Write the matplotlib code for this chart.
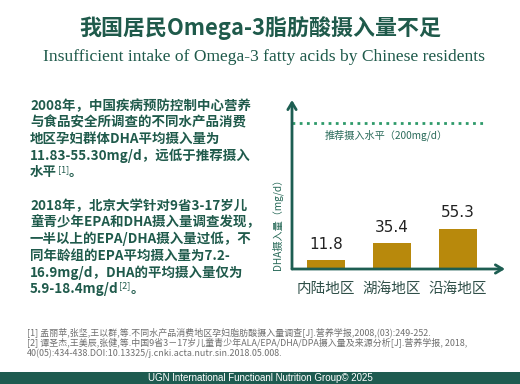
import matplotlib
matplotlib.use("Agg")
import matplotlib.pyplot as plt
from matplotlib.patches import Rectangle

plt.rcParams['font.family'] = ['Noto Sans CJK SC', 'DejaVu Sans']

title_cn = "我国居民Omega-3脂肪酸摄入量不足"
title_en = "Insufficient intake of Omega-3 fatty acids by Chinese residents"
categories = ["内陆地区", "湖海地区", "沿海地区"]
values = [11.8, 35.4, 55.3]
value_labels = ["11.8", "35.4", "55.3"]
recommended = 200
rec_label = "推荐摄入水平（200mg/d）"
ylabel = "DHA摄入量（mg/d）"
para1 = ["2008年，中国疾病预防控制中心营养",
         "与食品安全所调查的不同水产品消费",
         "地区孕妇群体DHA平均摄入量为",
         "11.83-55.30mg/d，远低于推荐摄入",
         "水平"]
para2 = ["2018年，北京大学针对9省3-17岁儿",
         "童青少年EPA和DHA摄入量调查发现，",
         "一半以上的EPA/DHA摄入量过低，不",
         "同年龄组的EPA平均摄入量为7.2-",
         "16.9mg/d，DHA的平均摄入量仅为",
         "5.9-18.4mg/d"]
refs = ["[1] 孟丽苹,张坚,王以群,等.不同水产品消费地区孕妇脂肪酸摄入量调查[J].营养学报,2008,(03):249-252.",
        "[2] 谭圣杰,王美辰,张健,等.中国9省3－17岁儿童青少年ALA/EPA/DHA/DPA摄入量及来源分析[J].营养学报, 2018,",
        "40(05):434-438.DOI:10.13325/j.cnki.acta.nutr.sin.2018.05.008."]
footer = "UGN International Functioanl Nutrition Group© 2025"

W, H = 520, 384
DG = "#1f5a4b"
BAR = "#b8890c"
fig = plt.figure(figsize=(W / 100, H / 100), dpi=100)
fig.patch.set_facecolor("white")

def fx(x): return x / W
def fy(y): return 1 - y / H

fig.text(fx(260), fy(28), title_cn, ha="center", va="center", fontsize=15.8,
         fontweight="bold", color=DG)
fig.text(fx(264), fy(57), title_en, ha="center", va="center", fontsize=12.6,
         family="Liberation Serif", color=DG)

fig.canvas.draw()
renderer = fig.canvas.get_renderer()

BFS = 9.7

def para(lines, y0, sup):
    step = 16.6
    for i, ln in enumerate(lines):
        t = fig.text(fx(30), fy(y0 + i * step), ln, ha="left", va="center",
                     fontsize=BFS, color=DG, fontweight="bold")
    bb = t.get_window_extent(renderer)
    x_end = bb.x1
    s = fig.text(x_end / W + 0.001, fy(y0 + (len(lines) - 1) * step - 3), sup,
                 ha="left", va="center", fontsize=6.5, color=DG)
    bb2 = s.get_window_extent(renderer)
    fig.text(bb2.x1 / W, fy(y0 + (len(lines) - 1) * step), "。", ha="left",
             va="center", fontsize=BFS, color=DG, fontweight="bold")

para(para1, 106, "[1]")
para(para2, 206, "[2]")

# chart
left, right, bottom, top = 292, 505, 269, 100
ax = fig.add_axes([fx(left), fy(bottom), fx(right - left), (bottom - top) / H])
ymax = recommended * (bottom - top) / (bottom - 123)
ax.set_ylim(0, ymax)
unit = 66
ax.set_xlim(-(326 - left) / unit, (right - 326) / unit)
x = list(range(len(categories)))
ax.bar(x, values, width=38 / unit, color=BAR, zorder=2)
for xi, v, lab in zip(x, values, value_labels):
    ax.annotate(lab, (xi, v), xytext=(0, 16), textcoords="offset pixels",
                ha="center", va="center", fontsize=11, color="#222222",
                family="DejaVu Sans")
for s in ax.spines.values():
    s.set_visible(False)
ax.set_xticks(x)
ax.set_xticklabels(categories, fontsize=10.5, color="#2f4f48")
ax.tick_params(length=0, pad=9)
ax.set_yticks([])
ax.patch.set_alpha(0)
ax.plot([0, (483 - left) / (right - left)], [recommended, recommended],
        transform=ax.get_yaxis_transform(), color="#2e9a6a", lw=2,
        linestyle=(0, (1, 1.6)), clip_on=False)
fig.text(fx(386), fy(135), rec_label, ha="center", va="center", fontsize=7.3,
         color="#2a6b5a")
ax.annotate("", xy=(0, 1), xytext=(0, 0), xycoords="axes fraction",
            arrowprops=dict(arrowstyle="->,head_length=0.5,head_width=0.3",
                            color="#1d5e52", lw=2, shrinkA=0, shrinkB=0))
ax.annotate("", xy=(1, 0), xytext=(0, 0), xycoords="axes fraction",
            arrowprops=dict(arrowstyle="->,head_length=0.5,head_width=0.3",
                            color="#1d5e52", lw=2, shrinkA=0, shrinkB=0))
fig.text(fx(277), fy(222), ylabel, ha="center", va="center", rotation=90,
         fontsize=7.3, color="#2a6b5a")

for i, r in enumerate(refs):
    fig.text(fx(27), fy(332 + i * 10.5), r, ha="left", va="center",
             fontsize=6.45, color="#6e6e6e")

fig.patches.append(Rectangle((0, 0), 1, 12 / H, transform=fig.transFigure,
                             facecolor="#1e5b50", edgecolor="none", zorder=0))
fig.text(fx(260), fy(378), footer, ha="center", va="center", fontsize=7,
         color="white", family="Liberation Sans")

fig.savefig("out.png", dpi=100)
